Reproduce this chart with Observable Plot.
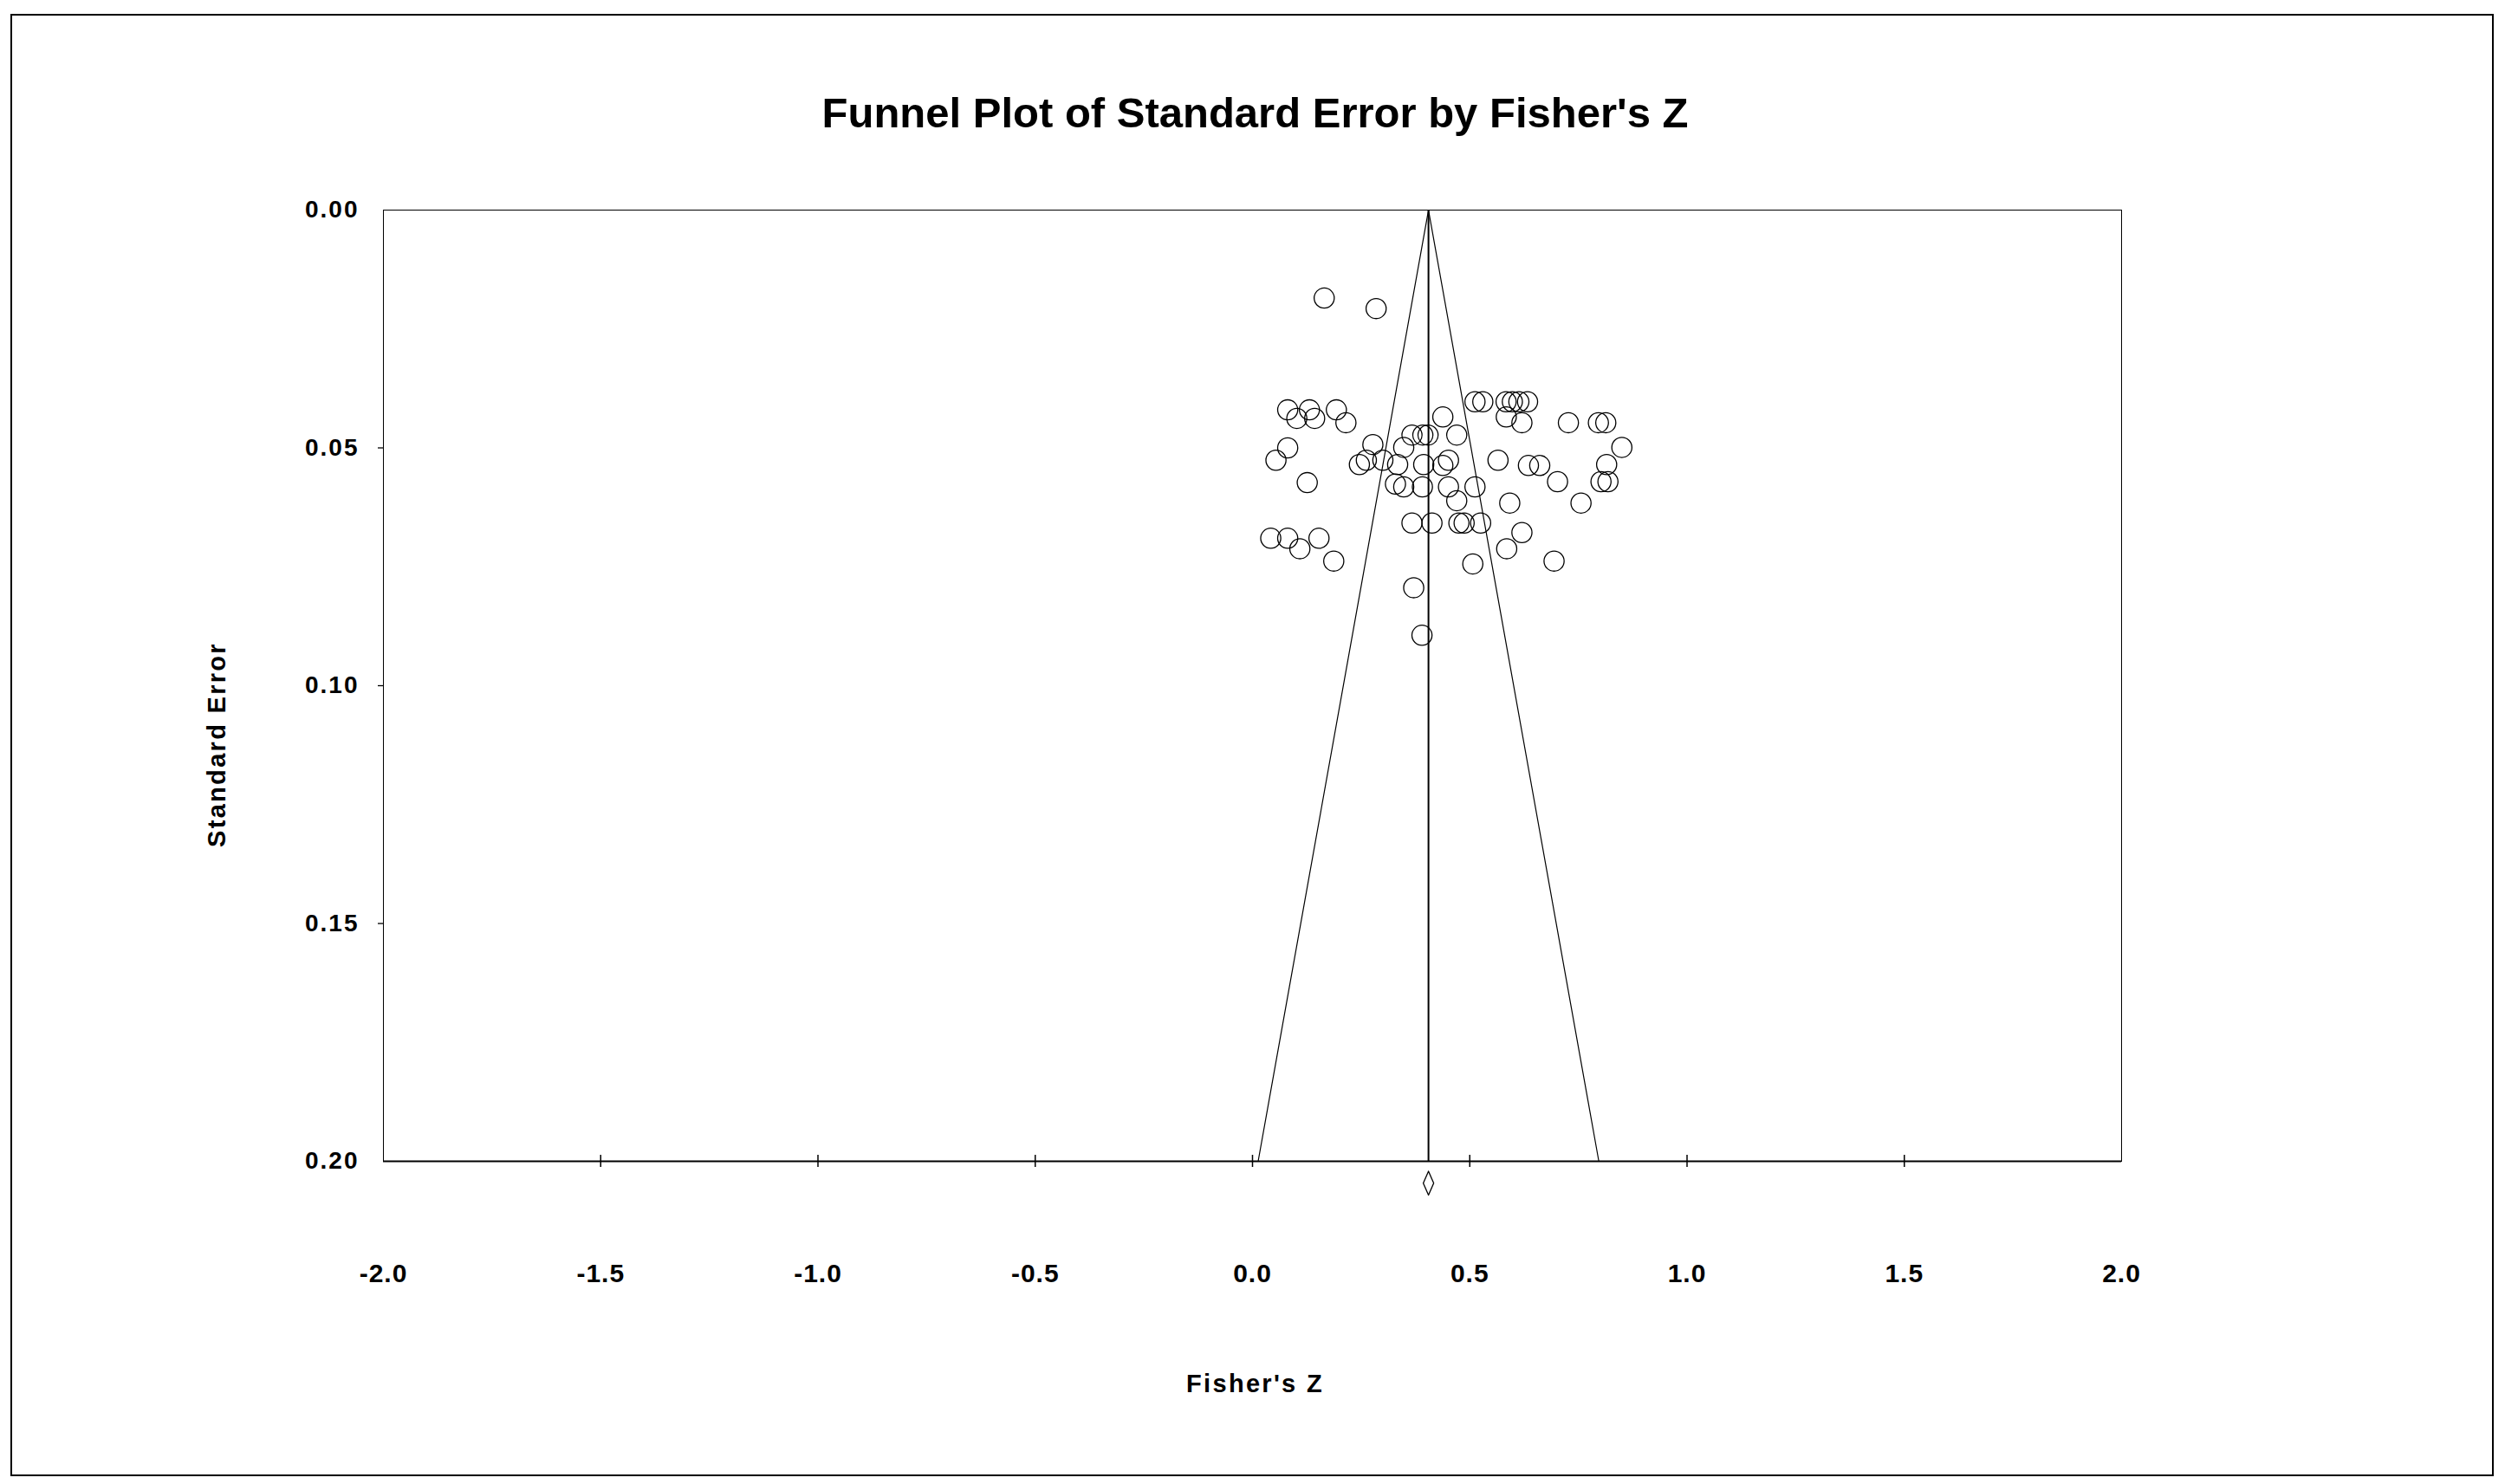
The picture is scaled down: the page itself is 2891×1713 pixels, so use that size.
<!DOCTYPE html>
<html>
<head>
<meta charset="utf-8">
<script src="https://cdn.jsdelivr.net/npm/d3@7"></script>
<script src="https://cdn.jsdelivr.net/npm/@observablehq/plot@0.6"></script>
<style>
  html, body { margin: 0; padding: 0; background: #fff; }
  #wrap { position: relative; width: 2891px; height: 1713px; background: #fff; }
  #border { position: absolute; left: 12px; top: 16px; width: 2866px; height: 1688px; box-sizing: border-box; border: 2px solid #000; pointer-events: none; }
  #wrap svg { position: absolute; left: 0; top: 0; }
  g[aria-label="y-axis tick label"] text { letter-spacing: 2px; }
  g[aria-label="x-axis tick label"] text { letter-spacing: 1px; }
  .axlabel text { letter-spacing: 2.3px; }
</style>
</head>
<body>
<div id="wrap"><div id="border"></div></div>
<script>
// Study effect sizes (Fisher's Z) and their standard errors
const zValues = [
  0.165, 0.2845, 0.512, 0.530, 0.5836, 0.598, 0.613, 0.633, 0.081, 0.131,
  0.193, 0.102, 0.143, 0.215, 0.438, 0.584, 0.620, 0.727, 0.796, 0.813,
  0.367, 0.392, 0.404, 0.470, 0.277, 0.348, 0.081, 0.850, 0.054, 0.262,
  0.246, 0.300, 0.334, 0.394, 0.451, 0.438, 0.565, 0.635, 0.661, 0.815,
  0.126, 0.329, 0.348, 0.391, 0.451, 0.512, 0.702, 0.802, 0.818, 0.470,
  0.592, 0.756, 0.367, 0.413, 0.475, 0.487, 0.525, 0.620, 0.042, 0.081,
  0.153, 0.109, 0.585, 0.187, 0.507, 0.694, 0.371, 0.390
];
const seValues = [
  0.0185, 0.0207, 0.0403, 0.0403, 0.0403, 0.0403, 0.0403, 0.0403, 0.0420, 0.0420,
  0.0420, 0.0438, 0.0438, 0.0447, 0.0435, 0.0435, 0.0447, 0.0447, 0.0447, 0.0447,
  0.0473, 0.0473, 0.0473, 0.0473, 0.0493, 0.0499, 0.0500, 0.0499, 0.0526, 0.0526,
  0.0535, 0.0526, 0.0535, 0.0535, 0.0526, 0.0537, 0.0526, 0.0537, 0.0537, 0.0535,
  0.0573, 0.0576, 0.0582, 0.0582, 0.0582, 0.0582, 0.0571, 0.0571, 0.0571, 0.0611,
  0.0616, 0.0616, 0.0658, 0.0658, 0.0658, 0.0658, 0.0658, 0.0678, 0.0690, 0.0690,
  0.0690, 0.0712, 0.0712, 0.0738, 0.0744, 0.0738, 0.0794, 0.0894
];
// Combined estimate and its confidence interval (diamond)
const meanZ = 0.405;
const ciLow = 0.393;
const ciHigh = 0.417;
const diamondY = [0.2021, 0.2046, 0.2071];
// Funnel end points (standard error)
const funnelSE = [0, 0.2];
// Axis ticks
const xTickLabels = [-2.0, -1.5, -1.0, -0.5, 0.0, 0.5, 1.0, 1.5, 2.0];
const xTickMarks = [-1.5, -1.0, -0.5, 0.0, 0.5, 1.0, 1.5];
const yTickLabels = [0.00, 0.05, 0.10, 0.15, 0.20];
const yTickMarks = [0.05, 0.10, 0.15];

const titleText = "Funnel Plot of Standard Error by Fisher's Z";
const xLabel = "Fisher's Z";
const yLabel = "Standard Error";

const studies = zValues.map((z, i) => ({z, se: seValues[i]}));
const funnelLeft = funnelSE.map(se => ({z: meanZ - 1.96 * se, se}));
const funnelRight = funnelSE.map(se => ({z: meanZ + 1.96 * se, se}));
const diamond = [
  {z: meanZ, se: diamondY[0]},
  {z: ciHigh, se: diamondY[1]},
  {z: meanZ, se: diamondY[2]},
  {z: ciLow, se: diamondY[1]},
  {z: meanZ, se: diamondY[0]}
];

const font = "'Liberation Sans', Arial, sans-serif";

const chart = Plot.plot({
  width: 2891,
  height: 1713,
  marginLeft: 442,
  marginRight: 443,
  marginTop: 242,
  marginBottom: 373,
  style: {fontFamily: font, background: "transparent", overflow: "visible"},
  x: {domain: [-2, 2]},
  y: {domain: [0, 0.2], reverse: true},
  marks: [
    Plot.frame({stroke: "#000", strokeWidth: 1}),
    Plot.ruleY([0.2], {stroke: "#000", strokeWidth: 2.2}),
    Plot.line(funnelLeft, {x: "z", y: "se", stroke: "#000", strokeWidth: 1.2}),
    Plot.line(funnelRight, {x: "z", y: "se", stroke: "#000", strokeWidth: 1.2}),
    Plot.ruleX([meanZ], {y1: funnelSE[0], y2: funnelSE[1], stroke: "#000", strokeWidth: 2}),
    Plot.dot(studies, {x: "z", y: "se", r: 11.6, stroke: "#000", strokeWidth: 1.3, fill: "none"}),
    Plot.line(diamond, {x: "z", y: "se", stroke: "#000", strokeWidth: 1.3, clip: false}),
    Plot.axisY({
      ticks: yTickLabels, tickSize: 0, tickPadding: 28,
      tickFormat: d => d.toFixed(2), fontSize: 28, fontWeight: "bold", label: null
    }),
    Plot.axisY({ticks: yTickMarks, tickSize: 6, strokeWidth: 1.3, tickFormat: () => "", label: null}),
    Plot.axisX({
      ticks: xTickLabels, tickSize: 0, tickPadding: 118,
      tickFormat: d => d.toFixed(1), fontSize: 30, fontWeight: "bold", label: null
    }),
    Plot.axisX({ticks: xTickMarks, tickSize: 14, dy: -7, strokeWidth: 1.5, tickFormat: () => "", label: null}),
    Plot.text([titleText], {frameAnchor: "top", lineAnchor: "middle", textAnchor: "middle", dy: -111, dx: 3, fontSize: 49, fontWeight: "bold", text: d => d}),
    Plot.text([xLabel], {frameAnchor: "bottom", lineAnchor: "middle", textAnchor: "middle", dy: 257, dx: 3, fontSize: 29, fontWeight: "bold", text: d => d, className: "axlabel"}),
    Plot.text([yLabel], {frameAnchor: "left", lineAnchor: "middle", textAnchor: "middle", dx: -192, dy: 68, rotate: -90, fontSize: 29, fontWeight: "bold", text: d => d, className: "axlabel"})
  ]
});

document.getElementById("wrap").appendChild(chart);
</script>
</body>
</html>
